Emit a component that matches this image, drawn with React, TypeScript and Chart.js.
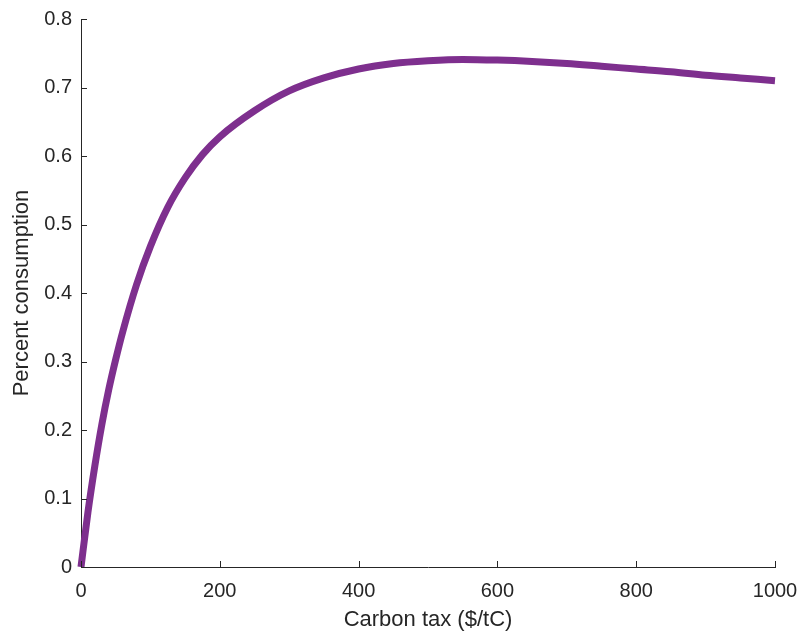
import React, { useEffect, useRef } from "react";
import { Chart, registerables } from "chart.js";

Chart.register(...registerables);

const carbonTax = [0, 10, 20, 30, 40, 50, 60, 80, 100, 125, 150, 175, 200, 250, 300, 350, 400, 450, 500, 550, 600, 650, 700, 750, 800, 850, 900, 950, 1000];
const percentConsumption = [0, 0.08, 0.148, 0.208, 0.259, 0.303, 0.343, 0.412, 0.468, 0.525, 0.568, 0.602, 0.628, 0.666, 0.695, 0.714, 0.727, 0.735, 0.739, 0.741, 0.74, 0.738, 0.735, 0.731, 0.727, 0.723, 0.718, 0.714, 0.71];
const xTicks = [0, 200, 400, 600, 800, 1000];
const yTicks = [0, 0.1, 0.2, 0.3, 0.4, 0.5, 0.6, 0.7, 0.8];

const AXIS = "#262626";
const FONT = "'Liberation Sans', Arial, Helvetica, sans-serif";

const inwardTicks = {
  id: "inwardTicks",
  afterDraw(chart: any) {
    const { ctx, chartArea, scales } = chart;
    ctx.save();
    ctx.strokeStyle = AXIS;
    ctx.lineWidth = 1;
    ctx.beginPath();
    for (const v of xTicks) {
      const px = Math.round(scales.x.getPixelForValue(v)) + 0.5;
      ctx.moveTo(px, chartArea.bottom);
      ctx.lineTo(px, chartArea.bottom - 6);
    }
    for (const v of yTicks) {
      const py = Math.round(scales.y.getPixelForValue(v)) + 0.5;
      ctx.moveTo(chartArea.left, py);
      ctx.lineTo(chartArea.left + 6, py);
    }
    ctx.stroke();
    ctx.restore();
  },
};

export default function App() {
  const ref = useRef<HTMLCanvasElement | null>(null);
  useEffect(() => {
    if (!ref.current) return;
    const chart = new Chart(ref.current, {
      type: "line",
      data: {
        datasets: [
          {
            data: carbonTax.map((x, i) => ({ x, y: percentConsumption[i] })),
            borderColor: "#7E2F8E",
            borderWidth: 7,
            pointRadius: 0,
            cubicInterpolationMode: "monotone",
            fill: false,
            clip: 8,
          },
        ],
      },
      options: {
        animation: false,
        responsive: false,
        maintainAspectRatio: false,
        layout: { padding: { top: 19, right: 25, left: 0, bottom: 0 } },
        plugins: { legend: { display: false }, tooltip: { enabled: false } },
        scales: {
          x: {
            type: "linear",
            min: 0,
            max: 1000,
            afterFit(scale: any) {
              scale.height = 68;
              scale.paddingLeft = 0;
              scale.paddingRight = 0;
            },
            afterBuildTicks(scale: any) {
              scale.ticks = xTicks.map((v) => ({ value: v }));
            },
            grid: { display: true, drawOnChartArea: false, drawTicks: false },
            border: { display: true, color: AXIS, width: 1 },
            ticks: {
              color: AXIS,
              padding: 12,
              maxRotation: 0,
              font: { family: FONT, size: 20 },
              callback: (v: any) => String(v),
            },
            title: {
              display: true,
              text: "Carbon tax ($/tC)",
              color: AXIS,
              font: { family: FONT, size: 22 },
              padding: { top: 0, bottom: 2 },
            },
          },
          y: {
            type: "linear",
            min: 0,
            max: 0.8,
            afterFit(scale: any) {
              scale.width = 81;
              scale.paddingTop = 0;
              scale.paddingBottom = 0;
            },
            afterBuildTicks(scale: any) {
              scale.ticks = yTicks.map((v) => ({ value: v }));
            },
            grid: { display: true, drawOnChartArea: false, drawTicks: false },
            border: { display: true, color: AXIS, width: 1 },
            ticks: {
              color: AXIS,
              padding: 9,
              font: { family: FONT, size: 20 },
              callback: (v: any) => String(Math.round(v * 10) / 10),
            },
            title: {
              display: true,
              text: "Percent consumption",
              color: AXIS,
              font: { family: FONT, size: 22 },
              padding: { top: 9, bottom: 0 },
            },
          },
        },
      },
      plugins: [inwardTicks],
    });
    return () => chart.destroy();
  }, []);
  return (
    <div style={{ position: "fixed", left: 0, top: 0, width: 800, height: 635, background: "#fff" }}>
      <canvas ref={ref} width={800} height={635} style={{ display: "block", width: 800, height: 635 }} />
    </div>
  );
}
